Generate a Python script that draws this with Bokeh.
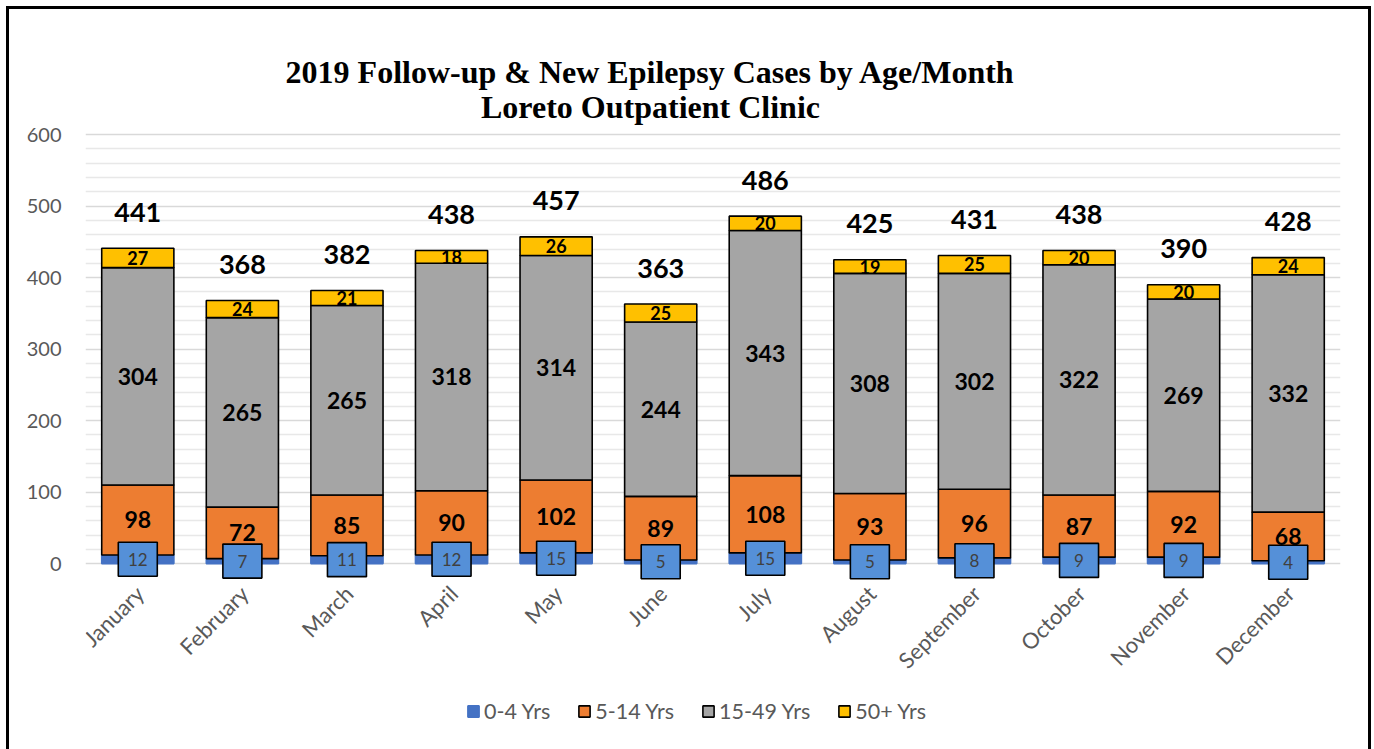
from bokeh.plotting import figure
from bokeh.models import (ColumnDataSource, FactorRange, Legend, LegendItem, Label,
                          FixedTicker, Range1d)
from bokeh.core.properties import value
from bokeh.embed import file_html
from bokeh.resources import INLINE

months = ["January", "February", "March", "April", "May", "June", "July",
          "August", "September", "October", "November", "December"]
age_0_4 = [12, 7, 11, 12, 15, 5, 15, 5, 8, 9, 9, 4]
age_5_14 = [98, 72, 85, 90, 102, 89, 108, 93, 96, 87, 92, 68]
age_15_49 = [304, 265, 265, 318, 314, 244, 343, 308, 302, 322, 269, 332]
age_50p = [27, 24, 21, 18, 26, 25, 20, 19, 25, 20, 20, 24]
series_names = ["0-4 Yrs", "5-14 Yrs", "15-49 Yrs", "50+ Yrs"]
y_ticks = [0, 100, 200, 300, 400, 500, 600]
y_minor = [v for v in range(0, 601, 20) if v % 100]
colors = ["#4472C4", "#ED7D31", "#A5A5A5", "#FFC000"]

keys = ["a", "b", "c", "d"]
data = dict(months=months, a=age_0_4, b=age_5_14, c=age_15_49, d=age_50p)
totals = [a + b + c + d for a, b, c, d in zip(age_0_4, age_5_14, age_15_49, age_50p)]
data["total"] = totals
data["total_s"] = [str(t) for t in totals]
data["ya"] = [v / 2 for v in age_0_4]
data["yb"] = [a + b / 2 for a, b in zip(age_0_4, age_5_14)]
data["yc"] = [a + b + c / 2 for a, b, c in zip(age_0_4, age_5_14, age_15_49)]
data["yd"] = [a + b + c + d / 2 for a, b, c, d in zip(age_0_4, age_5_14, age_15_49, age_50p)]
data["zero"] = [0] * len(months)
for k in keys:
    data[k + "_s"] = [str(v) for v in data[k]]
src = ColumnDataSource(data)

# frame spans the whole canvas height so titles / legend are not clipped
p = figure(x_range=FactorRange(*months, range_padding=0), y_range=Range1d(-260, 775),
           frame_width=1255, frame_height=740, x_axis_location=None,
           min_border_left=76, min_border_top=0, min_border_right=28, min_border_bottom=0,
           output_backend="svg", toolbar_location=None)
p.outline_line_color = None
p.styles = {"border-top": "3px solid black", "border-left": "3px solid black",
            "border-right": "3px solid black", "margin-left": "6px", "margin-top": "6px"}

p.yaxis.ticker = FixedTicker(ticks=y_ticks, minor_ticks=y_minor)
p.yaxis.axis_line_color = None
p.yaxis.major_tick_line_color = None
p.yaxis.minor_tick_line_color = None
p.yaxis.major_label_text_font = "Lato"
p.yaxis.major_label_text_font_size = "20px"
p.yaxis.major_label_text_color = "#595959"
p.yaxis.major_label_standoff = 18
p.xgrid.grid_line_color = None
p.ygrid.grid_line_color = "#d9d9d9"
p.ygrid.grid_line_width = 1.5
p.ygrid.minor_grid_line_color = "#e8e8e8"
p.ygrid.minor_grid_line_width = 1.5

rs = p.vbar_stack(keys, x="months", width=0.69, source=src, color=colors,
                  line_color=["#4472C4", "black", "black", "black"], line_width=1.6)

FONT = value("Lato")
p.text(x="months", y="yb", text="b_s", source=src, text_font=FONT, text_font_style="bold",
       text_font_size="23px", text_align="center", text_baseline="middle", text_color="black")
p.text(x="months", y="yc", text="c_s", source=src, text_font=FONT, text_font_style="bold",
       text_font_size="23px", text_align="center", text_baseline="middle", text_color="black")
p.text(x="months", y="yd", text="d_s", source=src, text_font=FONT, text_font_style="bold",
       text_font_size="18px", text_align="center", text_baseline="middle", text_color="black")
p.rect(x="months", y="ya", width=39, height=34, width_units="screen", height_units="screen",
       source=src, fill_color="#5590D8", line_color="black", line_width=1.6)
p.text(x="months", y="ya", text="a_s", source=src, text_font=FONT,
       text_font_size="17px", text_align="center", text_baseline="middle", text_color="#404040")
p.text(x="months", y="total", text="total_s", source=src, text_font=FONT, text_font_style="bold",
       text_font_size="27px", text_align="center", text_baseline="middle", text_color="black",
       y_offset=-36)

# category (month) labels, rotated 45 degrees like the axis labels
p.text(x="months", y="zero", text="months", source=src, text_font=FONT,
       text_font_size="22px", text_align="right", text_baseline="middle",
       text_color="#595959", angle=0.785, x_offset=2, y_offset=26)

# title
for txt, yy in [("2019 Follow-up & New Epilepsy Cases by Age/Month", 678),
                ("Loreto Outpatient Clinic", 643)]:
    p.add_layout(Label(x=565, y=yy, x_units="screen", y_units="screen", text=txt,
                       text_font="Liberation Serif", text_font_style="bold",
                       text_font_size="32px", text_align="center", text_baseline="middle",
                       text_color="black"))

legend = Legend(items=[LegendItem(label=n, renderers=[r]) for n, r in zip(series_names, rs)],
                orientation="horizontal", location=(381, 25),
                glyph_width=14, glyph_height=14, label_standoff=4, spacing=27,
                padding=0, margin=0, border_line_color=None, background_fill_alpha=0,
                label_text_font="Lato", label_text_font_size="21.5px",
                label_text_color="#595959")
p.add_layout(legend, "center")

open("out.html", "w").write(file_html(p, INLINE))
